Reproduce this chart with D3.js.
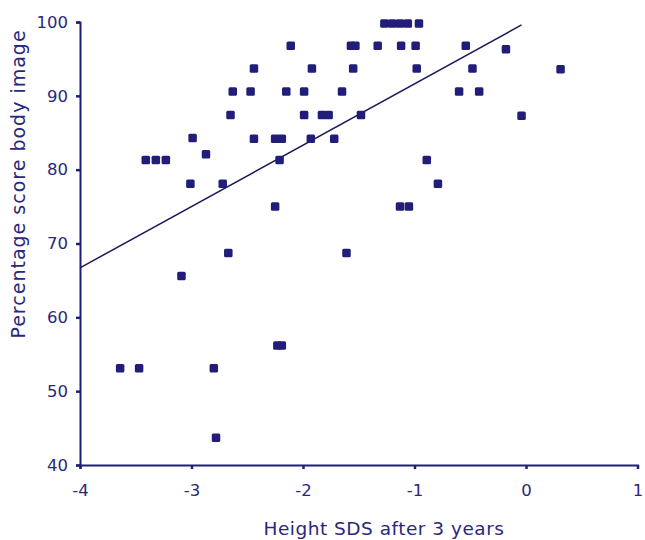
<!DOCTYPE html>
<html>
<head>
<meta charset="utf-8">
<script src="https://cdn.jsdelivr.net/npm/d3@7/dist/d3.min.js"></script>
<style>
  body { margin: 0; background: #fff; }
  text { font-family: "DejaVu Sans", Verdana, sans-serif; fill: #2a2878; }
</style>
</head>
<body>
<div id="chart"></div>
<script>
// height SDS after 3 years (x) vs percentage score body image (y)
var heightSds = [
  -2.44, -2.63, -2.47, -2.65, -2.99, -2.44, -2.25, -2.19, -2.87,
  -3.41, -3.32, -3.23, -2.21, -3.01, -2.72, -2.25,
  -1.27, -1.20, -1.13, -1.06, -0.96,
  -2.11, -1.57, -1.53, -1.33, -1.12, -0.99, -0.54, -0.18,
  -1.92, -1.55, -0.98, -0.48, 0.31,
  -2.15, -1.99, -1.65, -0.60, -0.42,
  -1.99, -1.83, -1.77, -1.48, -0.04,
  -1.93, -1.72, -0.89, -0.79, -1.13, -1.05,
  -2.67, -1.61, -3.09, -2.23, -2.19, -3.64, -3.47, -2.80, -2.78
];
var bodyScore = [
  93.7, 90.6, 90.6, 87.4, 84.3, 84.2, 84.2, 84.2, 82.1,
  81.3, 81.3, 81.3, 81.3, 78.1, 78.1, 75.0,
  99.8, 99.8, 99.8, 99.8, 99.8,
  96.8, 96.8, 96.8, 96.8, 96.8, 96.8, 96.8, 96.3,
  93.7, 93.7, 93.7, 93.7, 93.6,
  90.6, 90.6, 90.6, 90.6, 90.6,
  87.4, 87.4, 87.4, 87.4, 87.3,
  84.2, 84.2, 81.3, 78.1, 75.0, 75.0,
  68.7, 68.7, 65.6, 56.2, 56.2, 53.1, 53.1, 53.1, 43.7
];
// fitted line end points
var fitX = [-4, -0.04];
var fitY = [66.7, 99.6];
var xTicks = [-4, -3, -2, -1, 0, 1];
var yTicks = [40, 50, 60, 70, 80, 90, 100];

var width = 645, height = 540;
var ink = "#211d78";

var svg = d3.select("#chart").append("svg")
  .attr("width", width).attr("height", height);

var x = d3.scaleLinear().domain([-4, 1]).range([80, 637.5]);
var y = d3.scaleLinear().domain([40, 100]).range([465, 22]);

// axes
var xAxis = svg.append("g")
  .attr("transform", "translate(0," + y(40) + ")")
  .call(d3.axisBottom(x).tickValues(xTicks).tickSize(4).tickPadding(15).tickFormat(d3.format("d")));
var yAxis = svg.append("g")
  .attr("transform", "translate(" + x(-4) + ",0)")
  .call(d3.axisLeft(y).tickValues(yTicks).tickSize(4).tickPadding(8));

[xAxis, yAxis].forEach(function (a) {
  a.select(".domain").attr("stroke", ink).attr("stroke-width", 2);
  a.selectAll(".tick line").attr("stroke", ink).attr("stroke-width", 2.5);
  a.selectAll(".tick text")
    .style("font-family", "'DejaVu Sans', Verdana, sans-serif")
    .style("font-size", "16.5px")
    .attr("fill", "#2a2878");
});
// minus signs as plain hyphens like the original
xAxis.selectAll(".tick text").text(function (d) { return d < 0 ? "-" + Math.abs(d) : d; });

// fit line
svg.append("line")
  .attr("x1", x(fitX[0])).attr("y1", y(fitY[0]))
  .attr("x2", x(fitX[1])).attr("y2", y(fitY[1]))
  .attr("stroke", "#1d1a5c").attr("stroke-width", 1.5);

// points
var pts = heightSds.map(function (v, i) { return [v, bodyScore[i]]; });
svg.selectAll("rect.pt").data(pts).enter().append("rect")
  .attr("class", "pt")
  .attr("x", function (d) { return x(d[0]) - 4.25; })
  .attr("y", function (d) { return y(d[1]) - 4.25; })
  .attr("width", 8.5).attr("height", 8.5)
  .attr("rx", 1.5)
  .attr("fill", ink);

// axis titles
svg.append("text")
  .attr("x", 384).attr("y", 535)
  .attr("text-anchor", "middle")
  .style("font-size", "18.5px")
  .style("letter-spacing", "0.5px")
  .text("Height SDS after 3 years");
svg.append("text")
  .attr("transform", "translate(25,184) rotate(-90)")
  .attr("text-anchor", "middle")
  .style("font-size", "19px")
  .style("letter-spacing", "1px")
  .text("Percentage score body image");
</script>
</body>
</html>
